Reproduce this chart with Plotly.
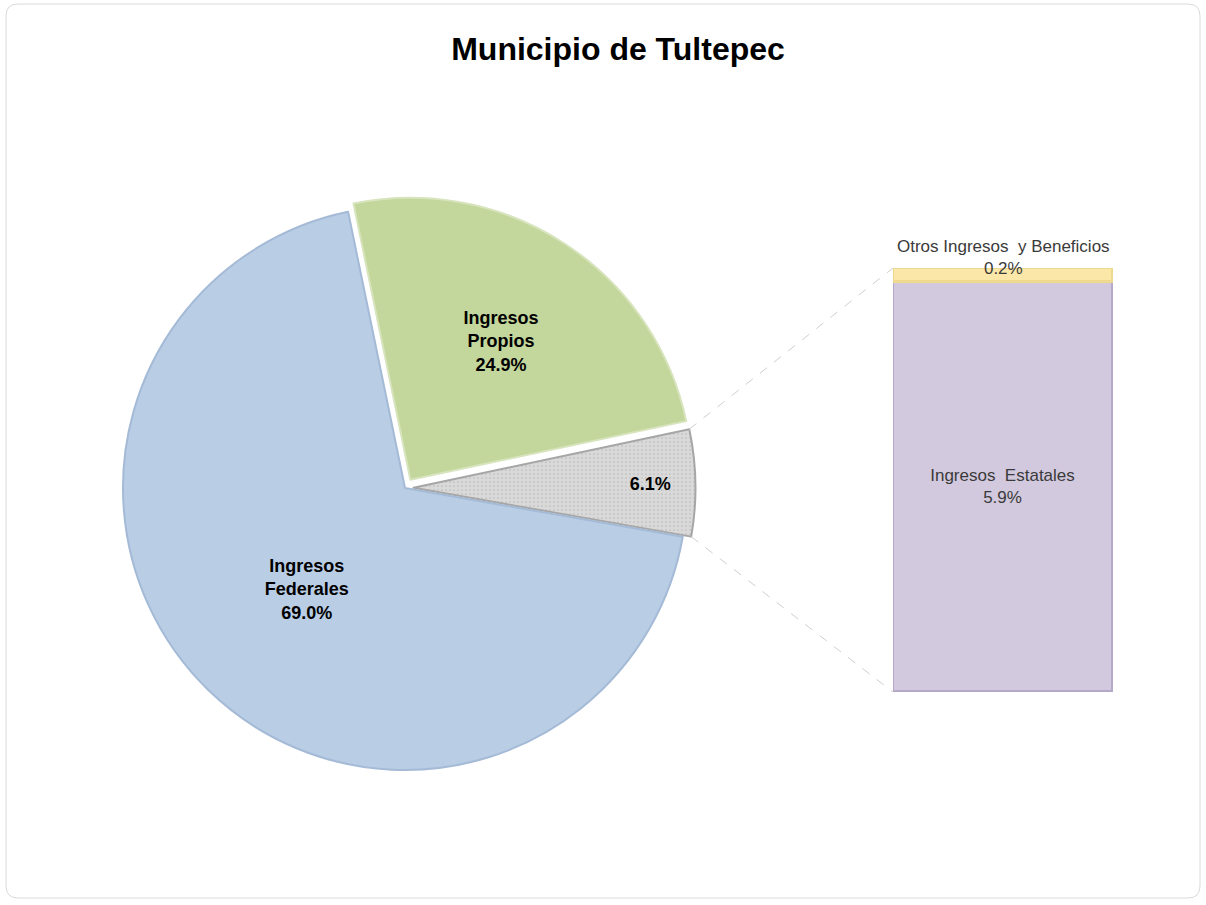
import math
import plotly.graph_objects as go

titulo = "Municipio de Tultepec"

# pastel: rebanadas
pie_labels = ["Otros", "Ingresos Propios", "Ingresos Federales"]
pie_values = [6.1, 24.9, 69.0]
pie_show_name = [False, True, True]

# barra: desglose de la rebanada "Otros"
bar_labels = ["Ingresos  Estatales", "Otros Ingresos  y Beneficios"]
bar_values = [5.9, 0.2]

W, H = 1206, 905
FONT = "Liberation Sans, Arial, sans-serif"

pie_colors = ["#d9d9d9", "#c3d69b", "#b9cde5"]
pie_lines = ["#a6a6a6", "#d7e4bd", "#a4bad6"]
pie_pull = [0.03, 0.035, 0.0]
rotation = 78  # clockwise from 12 o'clock, edge where the first slice begins

# pie placement (pixels)
cx_px, cy_px, r_px = 405, 488, 282
half = r_px * (1 + max(pie_pull))
pie_dom_x = [(cx_px - half) / W, (cx_px + half) / W]
pie_dom_y = [(H - cy_px - half) / H, (H - cy_px + half) / H]

bar_dom_x = [893 / W, 1113 / W]
bar_dom_y = [(H - 692) / H, (H - 268) / H]

pie_text = []
for name, v, show in zip(pie_labels, pie_values, pie_show_name):
    t = f"{v:.1f}%"
    if show:
        t = name.replace(" ", "<br>") + "<br>" + t
    pie_text.append(t)

fig = go.Figure()

fig.add_trace(go.Pie(
    labels=pie_labels, values=pie_values, text=pie_text,
    texttemplate="%{text}", textposition="inside",
    insidetextorientation="horizontal",
    textfont=dict(family=FONT, size=18, color="black", weight="bold"),
    sort=False, direction="counterclockwise", rotation=rotation,
    pull=pie_pull,
    marker=dict(colors=pie_colors, line=dict(color=pie_lines, width=2),
                pattern=dict(shape=[".", "", ""], fgcolor="#bdbdbd",
                             bgcolor=pie_colors, size=4, solidity=0.15)),
    domain=dict(x=pie_dom_x, y=pie_dom_y),
    showlegend=False, hoverinfo="label+percent",
))

bar_colors = ["#d2c9de", "#fbe8a8"]
bar_lines = ["#b5a8c8", "#efd98f"]
for i, (name, v) in enumerate(zip(bar_labels, bar_values)):
    last = i == len(bar_values) - 1
    fig.add_trace(go.Bar(
        x=[0], y=[v], width=1, name=name,
        text=[f"{name}<br>{v:.1f}%"],
        textposition="none" if last else "inside",
        insidetextanchor="middle", constraintext="none",
        textfont=dict(family=FONT, size=17, color="#3a3a3a"),
        marker=dict(color=bar_colors[i], line=dict(color=bar_lines[i], width=3)),
        cliponaxis=False, showlegend=False,
    ))

total_bar = sum(bar_values)

# label of the thin top segment, sitting over its upper edge
fig.add_annotation(
    x=0, y=total_bar, xref="x", yref="y", yanchor="bottom", yshift=-12,
    text=f"{bar_labels[-1]}<br>{bar_values[-1]:.1f}%", showarrow=False,
    font=dict(family=FONT, size=17, color="#3a3a3a"),
)

# dashed connectors from the pulled "Otros" slice to the bar
pr = r_px
span = pie_values[0] / sum(pie_values) * 360
a1 = math.radians(90 - rotation)          # upper edge (math angle)
a0 = math.radians(90 - rotation - span)   # lower edge
amid = (a0 + a1) / 2
ox = cx_px + pie_pull[0] * pr * math.cos(amid)
oy = cy_px - pie_pull[0] * pr * math.sin(amid)
p_top = (ox + pr * math.cos(a1), oy - pr * math.sin(a1))
p_bot = (ox + pr * math.cos(a0), oy - pr * math.sin(a0))
for (px_, py_), by in [(p_top, bar_dom_y[1]), (p_bot, bar_dom_y[0])]:
    fig.add_shape(type="line", xref="paper", yref="paper",
                  x0=px_ / W, y0=1 - py_ / H, x1=bar_dom_x[0], y1=by,
                  line=dict(color="#cfcfcf", width=1, dash="dash"))

# rounded frame
fx0, fy0, fx1, fy1, rr = 6 / W, 1 - 4 / H, 1200 / W, 1 - 898 / H, 12
rx, ry = rr / W, rr / H
path = (f"M {fx0 + rx},{fy0} L {fx1 - rx},{fy0} Q {fx1},{fy0} {fx1},{fy0 - ry} "
        f"L {fx1},{fy1 + ry} Q {fx1},{fy1} {fx1 - rx},{fy1} "
        f"L {fx0 + rx},{fy1} Q {fx0},{fy1} {fx0},{fy1 + ry} "
        f"L {fx0},{fy0 - ry} Q {fx0},{fy0} {fx0 + rx},{fy0} Z")
fig.add_shape(type="path", path=path, xref="paper", yref="paper",
              line=dict(color="#dadada", width=1))

fig.update_layout(
    width=W, height=H,
    margin=dict(l=0, r=0, t=0, b=0),
    paper_bgcolor="white", plot_bgcolor="white",
    title=dict(text=titulo, x=618 / W, xanchor="center",
               y=1 - 49 / H, yanchor="middle",
               font=dict(family=FONT, size=32, color="black", weight="bold")),
    barmode="stack", bargap=0,
    xaxis=dict(domain=bar_dom_x, range=[-0.5, 0.5], visible=False),
    yaxis=dict(domain=bar_dom_y, range=[0, total_bar], visible=False),
)

fig.write_html("out.html", config={"displayModeBar": False},
               post_script="document.body.style.margin='0px';")
